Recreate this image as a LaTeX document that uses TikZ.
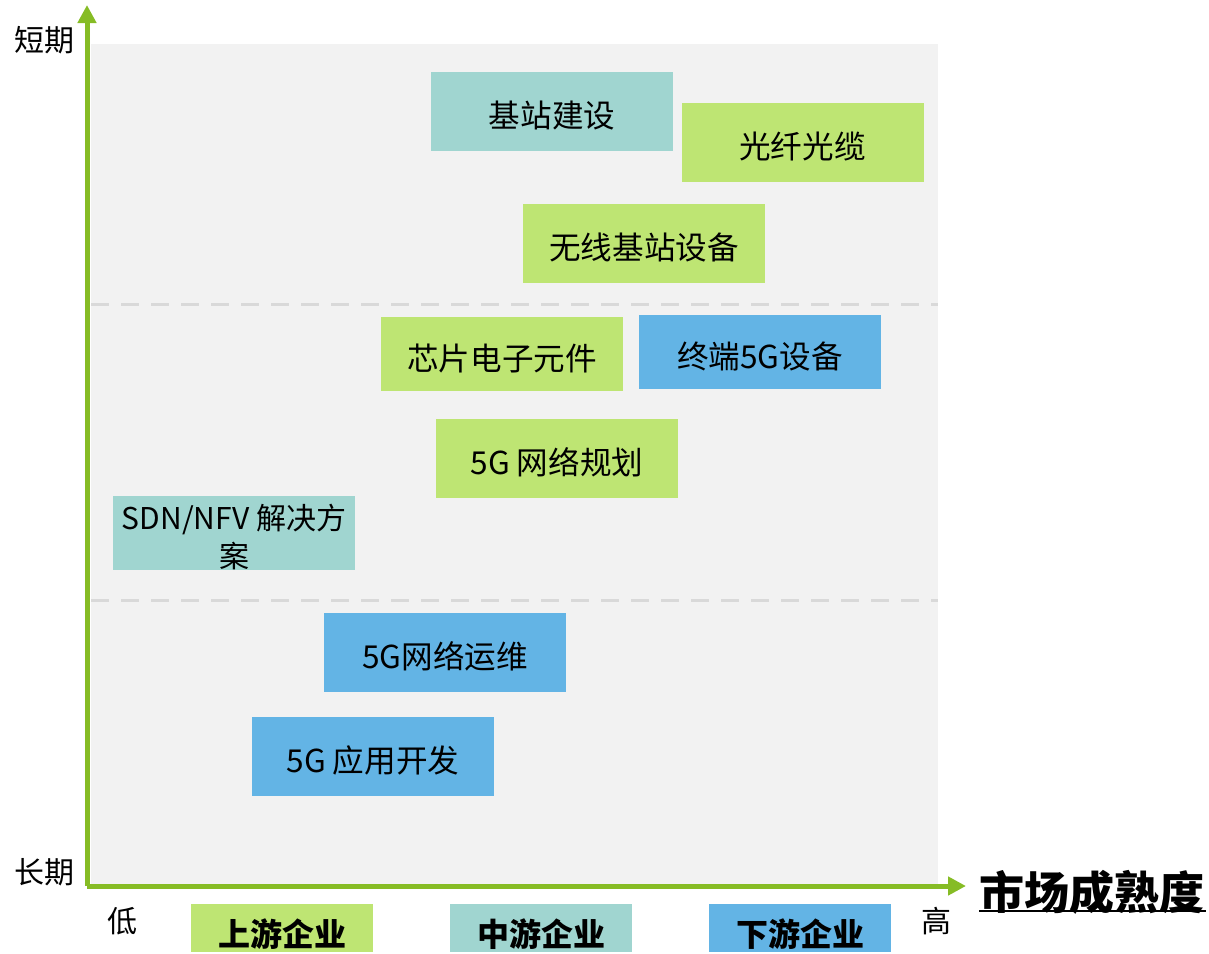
\documentclass[tikz,border=0pt]{standalone}
\usepackage{fontspec}
\setmainfont{Noto Sans CJK SC}
\usetikzlibrary{arrows.meta}
\definecolor{axisgreen}{HTML}{86BC25}
\definecolor{boxgreen}{HTML}{BEE573}
\definecolor{boxteal}{HTML}{A0D5D0}
\definecolor{boxblue}{HTML}{63B4E5}
\definecolor{bggrey}{HTML}{F2F2F2}
\definecolor{dashgrey}{HTML}{D9D9D9}
\tikzset{
  cell/.style={inner sep=0pt, minimum width=121pt, minimum height=39.5pt, font=\fontsize{15.8}{19}\selectfont, align=center, text height=17pt, text depth=1pt},
  up/.style={cell, fill=boxgreen},
  mid/.style={cell, fill=boxteal},
  down/.style={cell, fill=boxblue},
  legend/.style={inner sep=0pt, minimum width=91pt, minimum height=24pt, font=\fontsize{16}{19}\selectfont\bfseries, text height=19pt, text depth=1pt},
  axislabel/.style={inner sep=0pt, font=\fontsize{15}{18}\selectfont},
  axisline/.style={axisgreen, line width=2.5pt, -{Triangle[length=9pt,width=9pt]}},
  sep/.style={dashgrey, line width=1.5pt, dash pattern=on 9pt off 6pt}
}
\begin{document}
\begin{tikzpicture}[x=0.5pt,y=-0.5pt]
\useasboundingbox (0,0) rectangle (1209,953);
\fill[bggrey] (91,44) rectangle (938,885);
\coordinate (dl1) at (91,304); \coordinate (dr1) at (938,304);
\coordinate (dl2) at (91,600); \coordinate (dr2) at (938,600);
\draw[sep] (dl1) -- (dr1);
\draw[sep] (dl2) -- (dr2);
% boxes
\node[mid] (b1) at (552,111.5) {基站建设};
\node[up] (b2) at (802.5,142.5) {光纤光缆};
\node[up] (b3) at (644,243.5) {无线基站设备};
\node[up, minimum height=37pt] (b4) at (502,354) {芯片电子元件};
\node[down, minimum height=37pt] (b5) at (760,352) {终端5G设备};
\node[up] (b6) at (557,458.5) {5G 网络规划};
\node[inner sep=0pt, minimum width=121pt, minimum height=37pt, fill=boxteal] (b7) at (234,533) {};
\node[inner sep=0pt, align=center, font=\fontsize{15}{19}\selectfont] (b7t) at (234,537) {SDN/NFV 解决方\\案};
\node[down] (b8) at (445,652.5) {5G网络运维};
\node[down] (b9) at (373,756.5) {5G 应用开发};
% axes
\coordinate (o) at (87,886);
\coordinate (ytop) at (87,5);
\coordinate (xend) at (966,886);
\draw[axisline] (o) -- (ytop);
\draw[axisline] (o) -- (xend);
\node[axislabel] (short) at (44,40) {短期};
\node[axislabel] (long) at (44,872) {长期};
\node[axislabel] (low) at (122,921) {低};
\node[axislabel] (high) at (936,921) {高};
\node[inner sep=0pt, font=\fontsize{22.5}{26}\selectfont\bfseries] (mat) at (1092,892) {市场成熟度};
\coordinate (ul1) at (979,911); \coordinate (ul2) at (1206,911);
\draw[black, line width=0.8pt] (ul1) -- (ul2);
% legend
\node[legend, fill=boxgreen] (l1) at (282,928) {上游企业};
\node[legend, fill=boxteal] (l2) at (541,928) {中游企业};
\node[legend, fill=boxblue] (l3) at (800,928) {下游企业};
\end{tikzpicture}
\end{document}
